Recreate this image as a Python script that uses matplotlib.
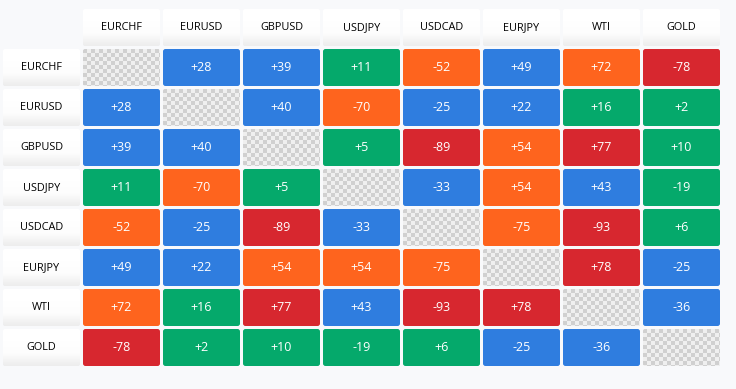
import numpy as np
import matplotlib.pyplot as plt
from matplotlib.patches import FancyBboxPatch
from matplotlib.colors import LinearSegmentedColormap

plt.rcParams['font.family'] = ['Open Sans', 'DejaVu Sans']

symbols = ["EURCHF", "EURUSD", "GBPUSD", "USDJPY", "USDCAD", "EURJPY", "WTI", "GOLD"]
corr = [
    [None, 28, 39, 11, -52, 49, 72, -78],
    [28, None, 40, -70, -25, 22, 16, 2],
    [39, 40, None, 5, -89, 54, 77, 10],
    [11, -70, 5, None, -33, 54, 43, -19],
    [-52, -25, -89, -33, None, -75, -93, 6],
    [49, 22, 54, 54, -75, None, 78, -25],
    [72, 16, 77, 43, -93, 78, None, -36],
    [-78, 2, 10, -19, 6, -25, -36, None],
]

def cell_color(v):
    a = abs(v)
    if a < 20:
        return "#05a96b"
    elif a < 50:
        return "#2f7ddf"
    elif a < 76:
        return "#fe641e"
    return "#d7272f"

W, H = 736, 389
fig = plt.figure(figsize=(W / 100, H / 100), dpi=100)
fig.patch.set_facecolor("#f8f9fb")
ax = fig.add_axes([0, 0, 1, 1])
ax.set_xlim(0, W)
ax.set_ylim(H, 0)
ax.axis("off")

x0, y0 = 83, 49       # first data cell
px, py = 80, 40       # pitch
cw, ch = 77, 37       # cell size
hx, hy = 3, 9         # header origin

grad = np.linspace(0, 1, 40).reshape(-1, 1)
hcmap = LinearSegmentedColormap.from_list("hdr", ["#ffffff", "#ffffff", "#fdfdfd", "#ededed"])

def header(x, y, text):
    p = FancyBboxPatch((x, y), cw, ch, boxstyle="round,pad=0,rounding_size=2",
                       fc="none", ec="none")
    ax.add_patch(p)
    im = ax.imshow(grad, extent=(x, x + cw, y + ch, y), cmap=hcmap, aspect="auto",
                   interpolation="bilinear", zorder=1)
    im.set_clip_path(p)
    ax.text(x + cw / 2, y + ch / 2, text, ha="center", va="center",
            fontsize=7.8, color="#000000", zorder=3)

def checker(x, y):
    s = 4
    nx, ny = int(np.ceil(cw / s)), int(np.ceil(ch / s))
    cb = (np.add.outer(np.arange(ny), np.arange(nx)) % 2).astype(float)
    p = FancyBboxPatch((x, y), cw, ch, boxstyle="round,pad=0,rounding_size=2",
                       fc="none", ec="none")
    ax.add_patch(p)
    im = ax.imshow(cb, extent=(x, x + nx * s, y + ny * s, y),
                   cmap=LinearSegmentedColormap.from_list("ck", ["#d0d0d0", "#efefef"]),
                   aspect="auto", interpolation="nearest", zorder=1)
    im.set_clip_path(p)

for j, name in enumerate(symbols):
    header(x0 + j * px, hy, name)
for i, name in enumerate(symbols):
    header(hx, y0 + i * py, name)

for i, row in enumerate(corr):
    for j, v in enumerate(row):
        x, y = x0 + j * px, y0 + i * py
        if v is None:
            checker(x, y)
            continue
        ax.add_patch(FancyBboxPatch((x, y), cw, ch, boxstyle="round,pad=0,rounding_size=2.5",
                                    fc=cell_color(v), ec="none", zorder=2))
        label = "%+d" % v
        ax.text(x + cw / 2, y + ch / 2, label, ha="center", va="center",
                fontsize=9, color="white", zorder=3)

fig.savefig("out.png", dpi=100, facecolor=fig.get_facecolor())
